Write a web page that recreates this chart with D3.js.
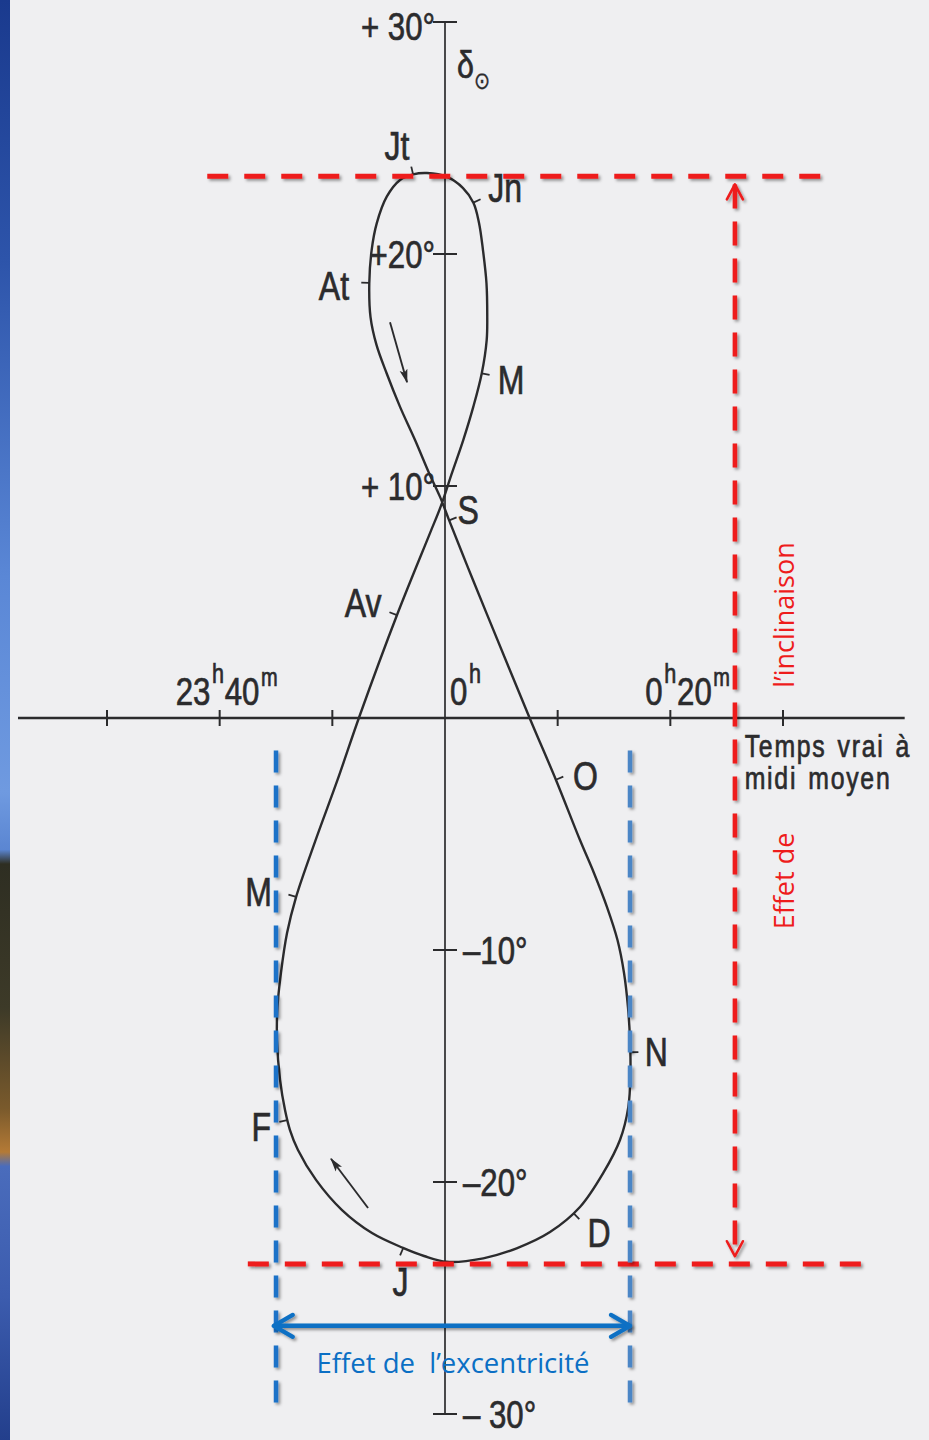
<!DOCTYPE html>
<html>
<head>
<meta charset="utf-8">
<script src="https://cdn.jsdelivr.net/npm/d3@7"></script>
<style>
  html, body { margin: 0; padding: 0; background: #efeff1; }
  svg { display: block; }
</style>
</head>
<body>
<svg id="chart" width="929" height="1440"></svg>
<script>
// Analemma: true solar time at mean noon (minutes from 0h) against solar declination (degrees)
const eqTime = [
  3.40, 0.15, -1.86, -3.73, -6.48, -9.14, -11.45, -13.05, -13.76, -14.20,
  -14.64, -14.91, -14.87, -14.56, -14.02, -13.22, -11.54, -9.54, -7.55, -4.26,
  -1.33, -0.36, 0.59, 1.62, 2.51, 3.26, 3.70, 3.75, 3.68, 3.37,
  3.02, 2.53, 1.60, 0.18, -1.60, -2.84, -3.99, -5.17, -6.06, -6.51,
  -6.72, -6.61, -6.08, -5.19, -3.99, -2.66, -1.42, -0.44, 0.36, 1.95,
  3.70, 7.54, 9.85, 11.98, 13.22, 14.38, 15.31, 15.89, 16.24, 16.42,
  16.46, 16.27, 15.53, 14.05, 11.98, 9.32, 6.36
];
const declination = [
  -23.29, -23.44, -23.19, -22.84, -22.20, -21.21, -19.91, -18.62, -17.76, -16.90,
  -15.60, -13.88, -12.46, -10.99, -9.27, -7.72, -5.34, -2.67, 0.13, 4.44,
  7.97, 9.14, 10.52, 11.98, 13.41, 14.85, 16.29, 17.28, 18.75, 20.17,
  21.34, 22.20, 22.84, 23.32, 23.49, 23.43, 23.19, 22.47, 21.32, 20.17,
  18.74, 17.28, 16.08, 14.87, 13.41, 11.98, 10.56, 9.53, 8.53, 6.59,
  4.50, -0.03, -2.67, -5.26, -6.68, -8.15, -9.57, -10.99, -12.46, -13.88,
  -15.30, -16.77, -18.19, -19.61, -21.08, -22.16, -22.86
];

// Start-of-month marks on the curve
const monthNames = ["J", "F", "M", "Av", "M", "Jn", "Jt", "At", "S", "O", "N", "D"];
const monthEqTime = [-3.73, -13.98, -13.22, -4.26, 3.26, 2.53, -2.84, -6.72, 0.36, 9.85, 16.45, 11.36];
const monthDecl   = [-22.84, -17.33, -7.72, 4.44, 14.85, 22.20, 23.43, 18.74, 8.53, -2.67, -14.40, -21.34];

// Axes
const declTicks = [30, 20, 10, -10, -20, -30];
const declTickLabels = ["+ 30°", "+20°", "+ 10°", "–10°", "–20°", "– 30°"];
const timeTicks = [-30, -20, -10, 0, 10, 20, 30];
const timeLabelTicks = [-20, 0, 20];
const timeLabelParts = [["23", "h", "40", "m"], ["0", "h"], ["0", "h", "20", "m"]];

// Direction-of-travel arrows (start, end) in minutes / degrees
const travelArrows = [
  [[-4.88, 17.06], [-3.37, 14.47]],
  [[-6.83, -21.12], [-10.12, -19.00]]
];

// Annotation extents (minutes / degrees)
const inclinationDecl = [23.35, -23.53];
const inclinationSpanTop = [-21.1, 33.7];
const inclinationSpanBottom = [-17.5, 37.3];
const inclinationArrowTime = 25.73;
const inclinationArrowDecl = [23.0, -23.2];
const eccentricityTime = [-15.0, 16.42];
const eccentricityDecl = [-1.4, -29.75];
const eccentricityArrowDecl = -26.2;
const eccentricityArrowTime = [-15.2, 16.42];
const timeAxisExtent = [-37.9, 40.8];

const svg = d3.select("#chart");
const W = 929, H = 1440;
const x = d3.scaleLinear().domain([-30, 30]).range([107, 783]);
const y = d3.scaleLinear().domain([30, -30]).range([22, 1414]);
const X0 = x(0), Y0 = y(0);

const scanFont = '"Liberation Sans", Arial, sans-serif';
const ink = "#2b2b2d";
const squeeze = 0.8;

const defs = svg.append("defs");

// slide background strip on the left edge
const strip = defs.append("linearGradient").attr("id", "strip")
  .attr("x1", 0).attr("y1", 0).attr("x2", 0).attr("y2", 1);
[[0, "#1a3a8e"], [0.18, "#2d54aa"], [0.4, "#5a87d6"], [0.55, "#6f9ae0"], [0.59, "#5b86d2"],
 [0.6, "#2e2e22"], [0.7, "#3d3a28"], [0.77, "#7a5a2c"], [0.8, "#b47a36"], [0.81, "#4a6cbc"],
 [0.9, "#3c5cae"], [1, "#233f8c"]]
  .forEach(([o, c]) => strip.append("stop").attr("offset", o).attr("stop-color", c));

// soft shadow under the annotation strokes (user-space region so thin lines keep it)
const shadow = defs.append("filter").attr("id", "shadow")
  .attr("filterUnits", "userSpaceOnUse")
  .attr("x", 0).attr("y", 0).attr("width", W).attr("height", H);
shadow.append("feDropShadow").attr("dx", 2).attr("dy", 2).attr("stdDeviation", 1.8)
  .attr("flood-color", "#000").attr("flood-opacity", 0.4);

function vMarker(id, color, len, half, width) {
  defs.append("marker").attr("id", id)
    .attr("viewBox", `${-3} ${-half - 3} ${len + 6} ${2 * half + 6}`)
    .attr("refX", len).attr("refY", 0)
    .attr("markerWidth", len + 6).attr("markerHeight", 2 * half + 6)
    .attr("markerUnits", "userSpaceOnUse")
    .attr("orient", "auto-start-reverse")
    .append("path")
    .attr("d", `M0,${-half} L${len},0 L0,${half}`)
    .attr("fill", "none").attr("stroke", color)
    .attr("stroke-width", width).attr("stroke-linecap", "round").attr("stroke-linejoin", "round");
}
vMarker("redHead", "#ee1c1c", 15, 8, 2.6);
vMarker("blueHead", "#0b6fc4", 19, 11, 4.2);

defs.append("marker").attr("id", "travelHead")
  .attr("viewBox", "0 -5 14 10").attr("refX", 13).attr("refY", 0)
  .attr("markerWidth", 14).attr("markerHeight", 10)
  .attr("markerUnits", "userSpaceOnUse").attr("orient", "auto")
  .append("path").attr("d", "M0,-4 L14,0 L0,4 L3,0 Z").attr("fill", ink);

// paper
svg.append("rect").attr("width", W).attr("height", H).attr("fill", "#efeff1");
svg.append("rect").attr("x", 0).attr("y", 0).attr("width", 10).attr("height", H).attr("fill", "url(#strip)");

// ---- axes ----
const axes = svg.append("g").attr("stroke", ink).attr("fill", "none");
axes.append("line")
  .attr("x1", x(timeAxisExtent[0])).attr("x2", x(timeAxisExtent[1]))
  .attr("y1", Y0).attr("y2", Y0).attr("stroke-width", 2.6);
axes.selectAll(".tt").data(timeTicks.filter(t => t !== 0)).join("line")
  .attr("x1", d => x(d)).attr("x2", d => x(d))
  .attr("y1", Y0 - 8).attr("y2", Y0 + 8).attr("stroke-width", 2);
axes.append("line")
  .attr("x1", X0).attr("x2", X0).attr("y1", y(30)).attr("y2", y(-30))
  .attr("stroke-width", 1.7);
axes.selectAll(".dt").data(declTicks).join("line")
  .attr("x1", X0 - 12).attr("x2", X0 + 12)
  .attr("y1", d => y(d)).attr("y2", d => y(d)).attr("stroke-width", 2);

function scanText(parent, px, py, size, anchor) {
  return parent.append("text")
    .attr("transform", `translate(${px},${py}) scale(${squeeze},1)`)
    .attr("font-family", scanFont).attr("font-size", size)
    .attr("fill", ink).attr("stroke", ink).attr("stroke-width", 0.7)
    .attr("text-anchor", anchor || "start");
}

const labels = svg.append("g");
declTicks.forEach((d, i) => {
  const positive = d > 0;
  scanText(labels, positive ? X0 - 10 : X0 + 18, y(d) + 14 + (d === 30 ? 4 : 0), 39, positive ? "end" : "start")
    .text(declTickLabels[i]);
});

// time labels with superscript hour / minute marks
const timeLabelShift = { "-20": -44, "0": 5, "20": -25 };
timeLabelTicks.forEach((t, i) => {
  const txt = scanText(labels, x(t) + timeLabelShift[t], Y0 - 13, 39, "start");
  const parts = timeLabelParts[i];
  parts.forEach((p, k) => {
    const sup = k % 2 === 1;
    const ts = txt.append("tspan").text(p);
    if (sup) ts.attr("font-size", p === "h" ? 27 : 25).attr("dy", p === "h" ? -22 : -19).attr("dx", 2);
    else if (k > 0) ts.attr("dy", parts[k - 1] === "h" ? 22 : 19).attr("dx", 1);
  });
});

// time axis title (one block, two lines)
const title = scanText(svg, x(26.6), Y0 + 39, 31, "start")
  .attr("letter-spacing", 2.2).attr("word-spacing", 3);
title.append("tspan").attr("x", 0).text("Temps vrai à");
title.append("tspan").attr("x", 0).attr("dy", 32).text("midi moyen");

// declination axis symbol
const sym = scanText(labels, X0 + 12, y(30) + 56, 38, "start");
sym.append("tspan").text("δ");
sym.append("tspan").attr("font-size", 24).attr("dy", 11).attr("stroke-width", 0.4)
  .attr("font-family", '"DejaVu Sans", sans-serif').text("⊙");

// ---- analemma ----
const pts = eqTime.map((t, i) => [t, declination[i]]);
const line = d3.line().x(d => x(d[0])).y(d => y(d[1])).curve(d3.curveCatmullRomClosed.alpha(0.5));
const curve = svg.append("path").datum(pts)
  .attr("d", line).attr("fill", "none").attr("stroke", ink)
  .attr("stroke-width", 2.4).attr("stroke-linejoin", "round");

// travel direction arrows
svg.append("g").selectAll("line").data(travelArrows).join("line")
  .attr("x1", d => x(d[0][0])).attr("y1", d => y(d[0][1]))
  .attr("x2", d => x(d[1][0])).attr("y2", d => y(d[1][1]))
  .attr("stroke", ink).attr("stroke-width", 1.9)
  .attr("marker-end", "url(#travelHead)");

// month ticks, placed normal to the curve, pointing away from their lobe
const node = curve.node();
const total = node.getTotalLength();
const samples = d3.range(0, total, 0.75).map(l => node.getPointAtLength(l));
const topLobe = pts.filter(d => d[1] > 10), lowLobe = pts.filter(d => d[1] < 5);
const topC = [x(d3.mean(topLobe, d => d[0])), y(d3.mean(topLobe, d => d[1]))];
const lowC = [x(d3.mean(lowLobe, d => d[0])), y(d3.mean(lowLobe, d => d[1]))];
// small hand adjustments of the month letters around the curve (pixels)
const labelNudge = { 0: [9, 6], 2: [-8, 3], 6: [-9, 1], 7: [-6, 3], 8: [-8, 0], 9: [1, 8], 11: [3, -4] };

const monthG = svg.append("g");
monthNames.forEach((name, i) => {
  const px = x(monthEqTime[i]), py = y(monthDecl[i]);
  const c = monthDecl[i] > 9.5 ? topC : lowC;
  const pick = d3.minIndex(samples, s => (s.x - px) ** 2 + (s.y - py) ** 2);
  const n = samples.length;
  const a = samples[(pick - 4 + n) % n], b = samples[(pick + 4) % n];
  let tx = b.x - a.x, ty = b.y - a.y;
  const len = Math.hypot(tx, ty); tx /= len; ty /= len;
  let nx = -ty, ny = tx;
  const p = samples[pick];
  if ((p.x - c[0]) * nx + (p.y - c[1]) * ny < 0) { nx = -nx; ny = -ny; }
  monthG.append("line")
    .attr("x1", p.x).attr("y1", p.y).attr("x2", p.x + nx * 8).attr("y2", p.y + ny * 8)
    .attr("stroke", ink).attr("stroke-width", 1.8);
  const t = scanText(monthG, 0, 0, 40, "middle").attr("dy", "0.36em").text(name);
  const w = t.node().getComputedTextLength() * squeeze;
  const dist = 14 + Math.abs(nx) * w / 2 + Math.abs(ny) * 14;
  const [ox, oy] = labelNudge[i] || [0, 0];
  t.attr("transform", `translate(${p.x + nx * dist + ox},${p.y + ny * dist + oy}) scale(${squeeze},1)`);
});

// ---- annotations ----
const notes = svg.append("g");
const red = "#ee1c1c";
[[inclinationDecl[0], inclinationSpanTop], [inclinationDecl[1], inclinationSpanBottom]].forEach(([d, span]) => {
  notes.append("line")
    .attr("x1", x(span[0])).attr("x2", x(span[1])).attr("y1", y(d)).attr("y2", y(d))
    .attr("stroke", red).attr("stroke-width", 5).attr("stroke-dasharray", "21 16")
    .attr("filter", "url(#shadow)");
});
notes.append("line")
  .attr("x1", x(inclinationArrowTime)).attr("x2", x(inclinationArrowTime))
  .attr("y1", y(inclinationArrowDecl[0])).attr("y2", y(inclinationArrowDecl[1]))
  .attr("stroke", red).attr("stroke-width", 4.5).attr("stroke-dasharray", "24 13")
  .attr("filter", "url(#shadow)")
  .attr("marker-start", "url(#redHead)").attr("marker-end", "url(#redHead)");

["#1b72c8", "#4c86c6"].forEach((col, i) => {
  notes.append("line")
    .attr("x1", x(eccentricityTime[i])).attr("x2", x(eccentricityTime[i]))
    .attr("y1", y(eccentricityDecl[0])).attr("y2", y(eccentricityDecl[1]))
    .attr("stroke", col).attr("stroke-width", 4.5).attr("stroke-dasharray", "22 13")
    .attr("filter", "url(#shadow)");
});
notes.append("line")
  .attr("x1", x(eccentricityArrowTime[0])).attr("x2", x(eccentricityArrowTime[1]))
  .attr("y1", y(eccentricityArrowDecl)).attr("y2", y(eccentricityArrowDecl))
  .attr("stroke", "#0b6fc4").attr("stroke-width", 4.5)
  .attr("filter", "url(#shadow)")
  .attr("marker-start", "url(#blueHead)").attr("marker-end", "url(#blueHead)");

const noteFont = '"Open Sans", "Noto Sans", sans-serif';
notes.append("text")
  .attr("x", (x(eccentricityTime[0]) + x(eccentricityTime[1])) / 2)
  .attr("y", y(eccentricityArrowDecl) + 47)
  .attr("text-anchor", "middle").attr("font-family", noteFont).attr("font-size", 27.5)
  .attr("fill", "#0b6fc4").style("white-space", "pre")
  .text("Effet de  l’excentricité");

[["l’inclinaison", 615], ["Effet de", 881]].forEach(([s, cy]) => {
  notes.append("text")
    .attr("transform", `translate(${x(inclinationArrowTime) + 59},${cy}) rotate(-90)`)
    .attr("text-anchor", "middle").attr("font-family", noteFont).attr("font-size", 27)
    .attr("fill", red).text(s);
});
</script>
</body>
</html>
